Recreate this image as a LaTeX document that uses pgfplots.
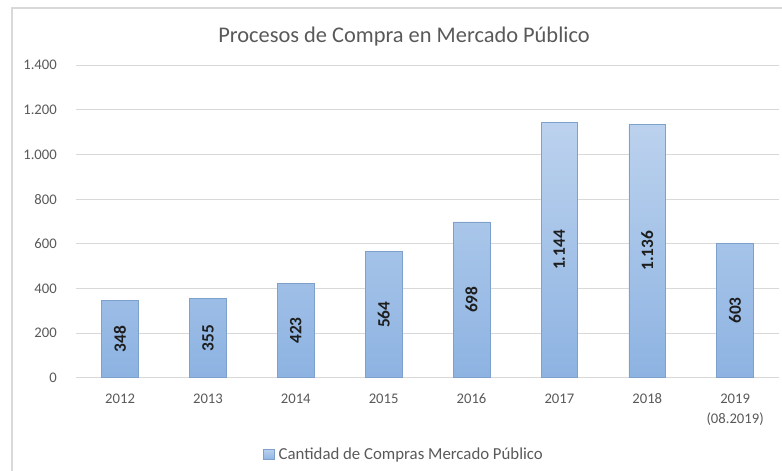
\documentclass[border=0pt]{standalone}
\usepackage{pgfplots}
\usepackage{pgfplotstable}
\pgfplotsset{compat=1.18}
\usepackage{fontspec}
\setmainfont{Carlito}
\definecolor{txtgray}{HTML}{595959}
\definecolor{gridgray}{HTML}{D9D9D9}
\definecolor{bartop}{HTML}{BCD2EE}
\definecolor{barbot}{HTML}{8DB3E2}
\definecolor{baredge}{HTML}{7EA1CC}
\definecolor{lblblack}{HTML}{1E1E1E}
\pgfplotstableread{
x v
0 348
1 355
2 423
3 564
4 698
5 1144
6 1136
7 603
}\data
\begin{document}
\begin{tikzpicture}
\useasboundingbox (0pt,0pt) rectangle (586.5pt,-353.25pt);
\draw[gridgray, line width=0.8pt] (9pt,-400pt) -- (9pt,-6pt) -- (620pt,-6pt);
\begin{axis}[
  at={(57.1pt,-283.3pt)}, anchor=south west,
  scale only axis, width=527.2pt, height=234.5pt,
  xmin=-0.5, xmax=7.5, ymin=0, ymax=1400,
  xtick={0,...,7},
  xticklabels={2012,2013,2014,2015,2016,2017,2018,{2019\\(08.2019)}},
  ytick={0,200,...,1400},
  /pgf/number format/.cd, 1000 sep={.}, assume math mode=true, /pgfplots/.cd,
  major tick length=0pt,
  ymajorgrids, major grid style={gridgray, line width=0.8pt},
  axis lines*=left,
  y axis line style={draw=none},
  x axis line style={draw=gridgray, line width=0.8pt, -},
  xticklabel style={font=\fontsize{11pt}{15pt}\selectfont, text=txtgray, align=center, yshift=-8.5pt},
  yticklabel style={font=\fontsize{11pt}{13pt}\selectfont, text=txtgray, xshift=-11pt},
  legend style={at={(0.468,-0.245)}, anchor=center, draw=none, fill=none,
    font=\fontsize{12.6pt}{14pt}\selectfont, text=txtgray,
    /tikz/every even column/.append style={column sep=0pt}},
  legend image code/.code={\draw[baredge, top color=bartop, bottom color=barbot] (0pt,-4pt) rectangle (8pt,4pt);},
  legend cell align=left,
  legend style={nodes={inner xsep=3pt}},
  clip=false,
]
\addplot[ybar, bar width=0.417, draw=baredge, line width=0.5pt, top color=bartop, bottom color=barbot]
  table[x=x, y=v] {\data};
\addlegendentry{Cantidad de Compras Mercado Público}
\addplot[draw=none, mark=none, forget plot, point meta=explicit,
  nodes near coords,
  every node near coord/.append style={anchor=center, rotate=90, font=\bfseries\fontsize{13pt}{15pt}\selectfont, text=lblblack}]
  table[x=x, y expr=\thisrow{v}/2, meta=v] {\data};
\end{axis}
\node[text=txtgray, font=\fontsize{16.8pt}{19pt}\selectfont] at (303pt,-27.75pt) {Procesos de Compra en Mercado Público};
\end{tikzpicture}
\end{document}
